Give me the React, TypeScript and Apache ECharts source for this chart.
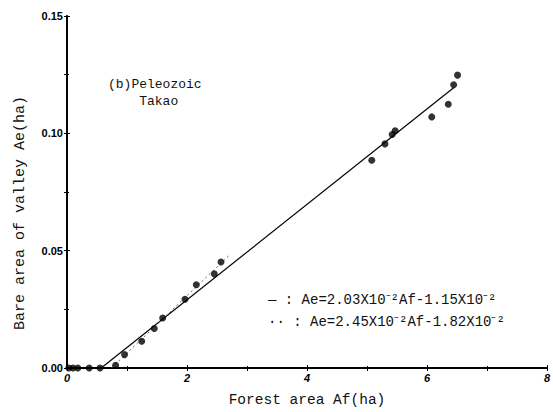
import React, { useEffect, useRef } from "react";
import * as echarts from "echarts";

const observedPoints: [number, number][] = [
  [0.03, 0], [0.1, 0], [0.18, 0], [0.37, 0], [0.55, 0],
  [0.81, 0.0012], [0.96, 0.0057], [1.245, 0.0114], [1.455, 0.0168], [1.595, 0.0213],
  [1.967, 0.0293], [2.155, 0.0355], [2.455, 0.0401], [2.567, 0.0452],
  [5.08, 0.0885], [5.3, 0.0955], [5.42, 0.0995], [5.47, 0.1011],
  [6.08, 0.107], [6.355, 0.1124], [6.445, 0.1207], [6.51, 0.1248],
];
const solidFit: [number, number][] = [[0.57, 0], [6.45, 0.1195]];
const dottedFit: [number, number][] = [[0.74, 0], [2.72, 0.0484]];
const xTicks = [0, 2, 4, 6, 8];
const yTicks = [0, 0.05, 0.1, 0.15];
const xTitle = "Forest area Af(ha)";
const yTitle = "Bare area of valley Ae(ha)";
const labelText = ["(b)Peleozoic", "    Takao"];
const legendLines = ["— : Ae=2.03X10⁻²Af-1.15X10⁻²", "·· : Ae=2.45X10⁻²Af-1.82X10⁻²"];

export default function App() {
  const ref = useRef<HTMLDivElement>(null);
  useEffect(() => {
    const chart = echarts.init(ref.current!, null, { renderer: "svg" });
    const mono = "Liberation Mono";
    const sans = "Liberation Sans";
    chart.setOption({
      animation: false,
      backgroundColor: "#fff",
      grid: { left: 67, right: 6, top: 16, bottom: 41 },
      xAxis: [
        {
          type: "value", min: xTicks[0], max: xTicks[xTicks.length - 1], interval: 2,
          name: xTitle, nameLocation: "middle", nameGap: 24,
          nameTextStyle: { fontFamily: mono, fontSize: 14.5, color: "#111" },
          axisLine: { show: true, lineStyle: { color: "#000", width: 1.8 } },
          axisTick: { inside: true, length: 3, lineStyle: { color: "#000" } },
          minorTick: { show: true, splitNumber: 2, length: 2, lineStyle: { color: "#000" } },
          axisLabel: { fontFamily: sans, fontSize: 11, fontWeight: "bold", fontStyle: "italic", color: "#000", margin: 4 },
          splitLine: { show: false },
        },
        {
          type: "value", position: "top", min: 0, max: 8, interval: 1,
          axisLine: { show: true, lineStyle: { color: "#000", width: 1.5 } },
          axisTick: { inside: true, length: 3, lineStyle: { color: "#000" } },
          axisLabel: { show: false }, splitLine: { show: false },
        },
      ],
      yAxis: [
        {
          type: "value", min: yTicks[0], max: yTicks[yTicks.length - 1], interval: 0.05,
          axisLine: { show: true, lineStyle: { color: "#000", width: 1.8 } },
          axisTick: { inside: true, length: 3, lineStyle: { color: "#000" } },
          minorTick: { show: true, splitNumber: 2, length: 2, lineStyle: { color: "#000" } },
          axisLabel: { fontFamily: sans, fontSize: 11, fontWeight: "bold", color: "#000", margin: 4, formatter: (v: number) => v.toFixed(2) },
          splitLine: { show: false },
        },
        {
          type: "value", position: "right", min: 0, max: 0.15, interval: 0.025,
          axisLine: { show: true, lineStyle: { color: "#000", width: 1.5 } },
          axisTick: { inside: true, length: 3, lineStyle: { color: "#000" } },
          axisLabel: { show: false }, splitLine: { show: false },
        },
      ],
      series: [
        {
          type: "line", data: solidFit, showSymbol: false, symbol: "none",
          lineStyle: { color: "#000", width: 1.2 }, z: 3,
        },
        {
          type: "line", data: dottedFit, showSymbol: false, symbol: "none",
          lineStyle: { color: "#666", width: 1, type: [2, 3] }, z: 3,
        },
        {
          type: "scatter", data: observedPoints, symbol: "circle", symbolSize: 7,
          itemStyle: { color: "#000" }, z: 4,
        },
      ],
      graphic: [
        {
          type: "text", x: 20, y: 213, rotation: Math.PI / 2,
          style: { text: yTitle, fontFamily: mono, fontSize: 15, fill: "#111", align: "center", verticalAlign: "middle" },
        },
        {
          type: "text", left: 108, top: 76,
          style: { text: labelText.join("\n"), fontFamily: mono, fontSize: 13, fill: "#111", lineHeight: 17 },
        },
        {
          type: "text", left: 268, top: 289,
          style: { text: legendLines.join("\n"), fontFamily: mono, fontSize: 14, fill: "#111", lineHeight: 22 },
        },
      ],
    });
    return () => chart.dispose();
  }, []);
  return <div ref={ref} style={{ width: 553, height: 412, position: "absolute", left: 0, top: 0 }} />;
}
